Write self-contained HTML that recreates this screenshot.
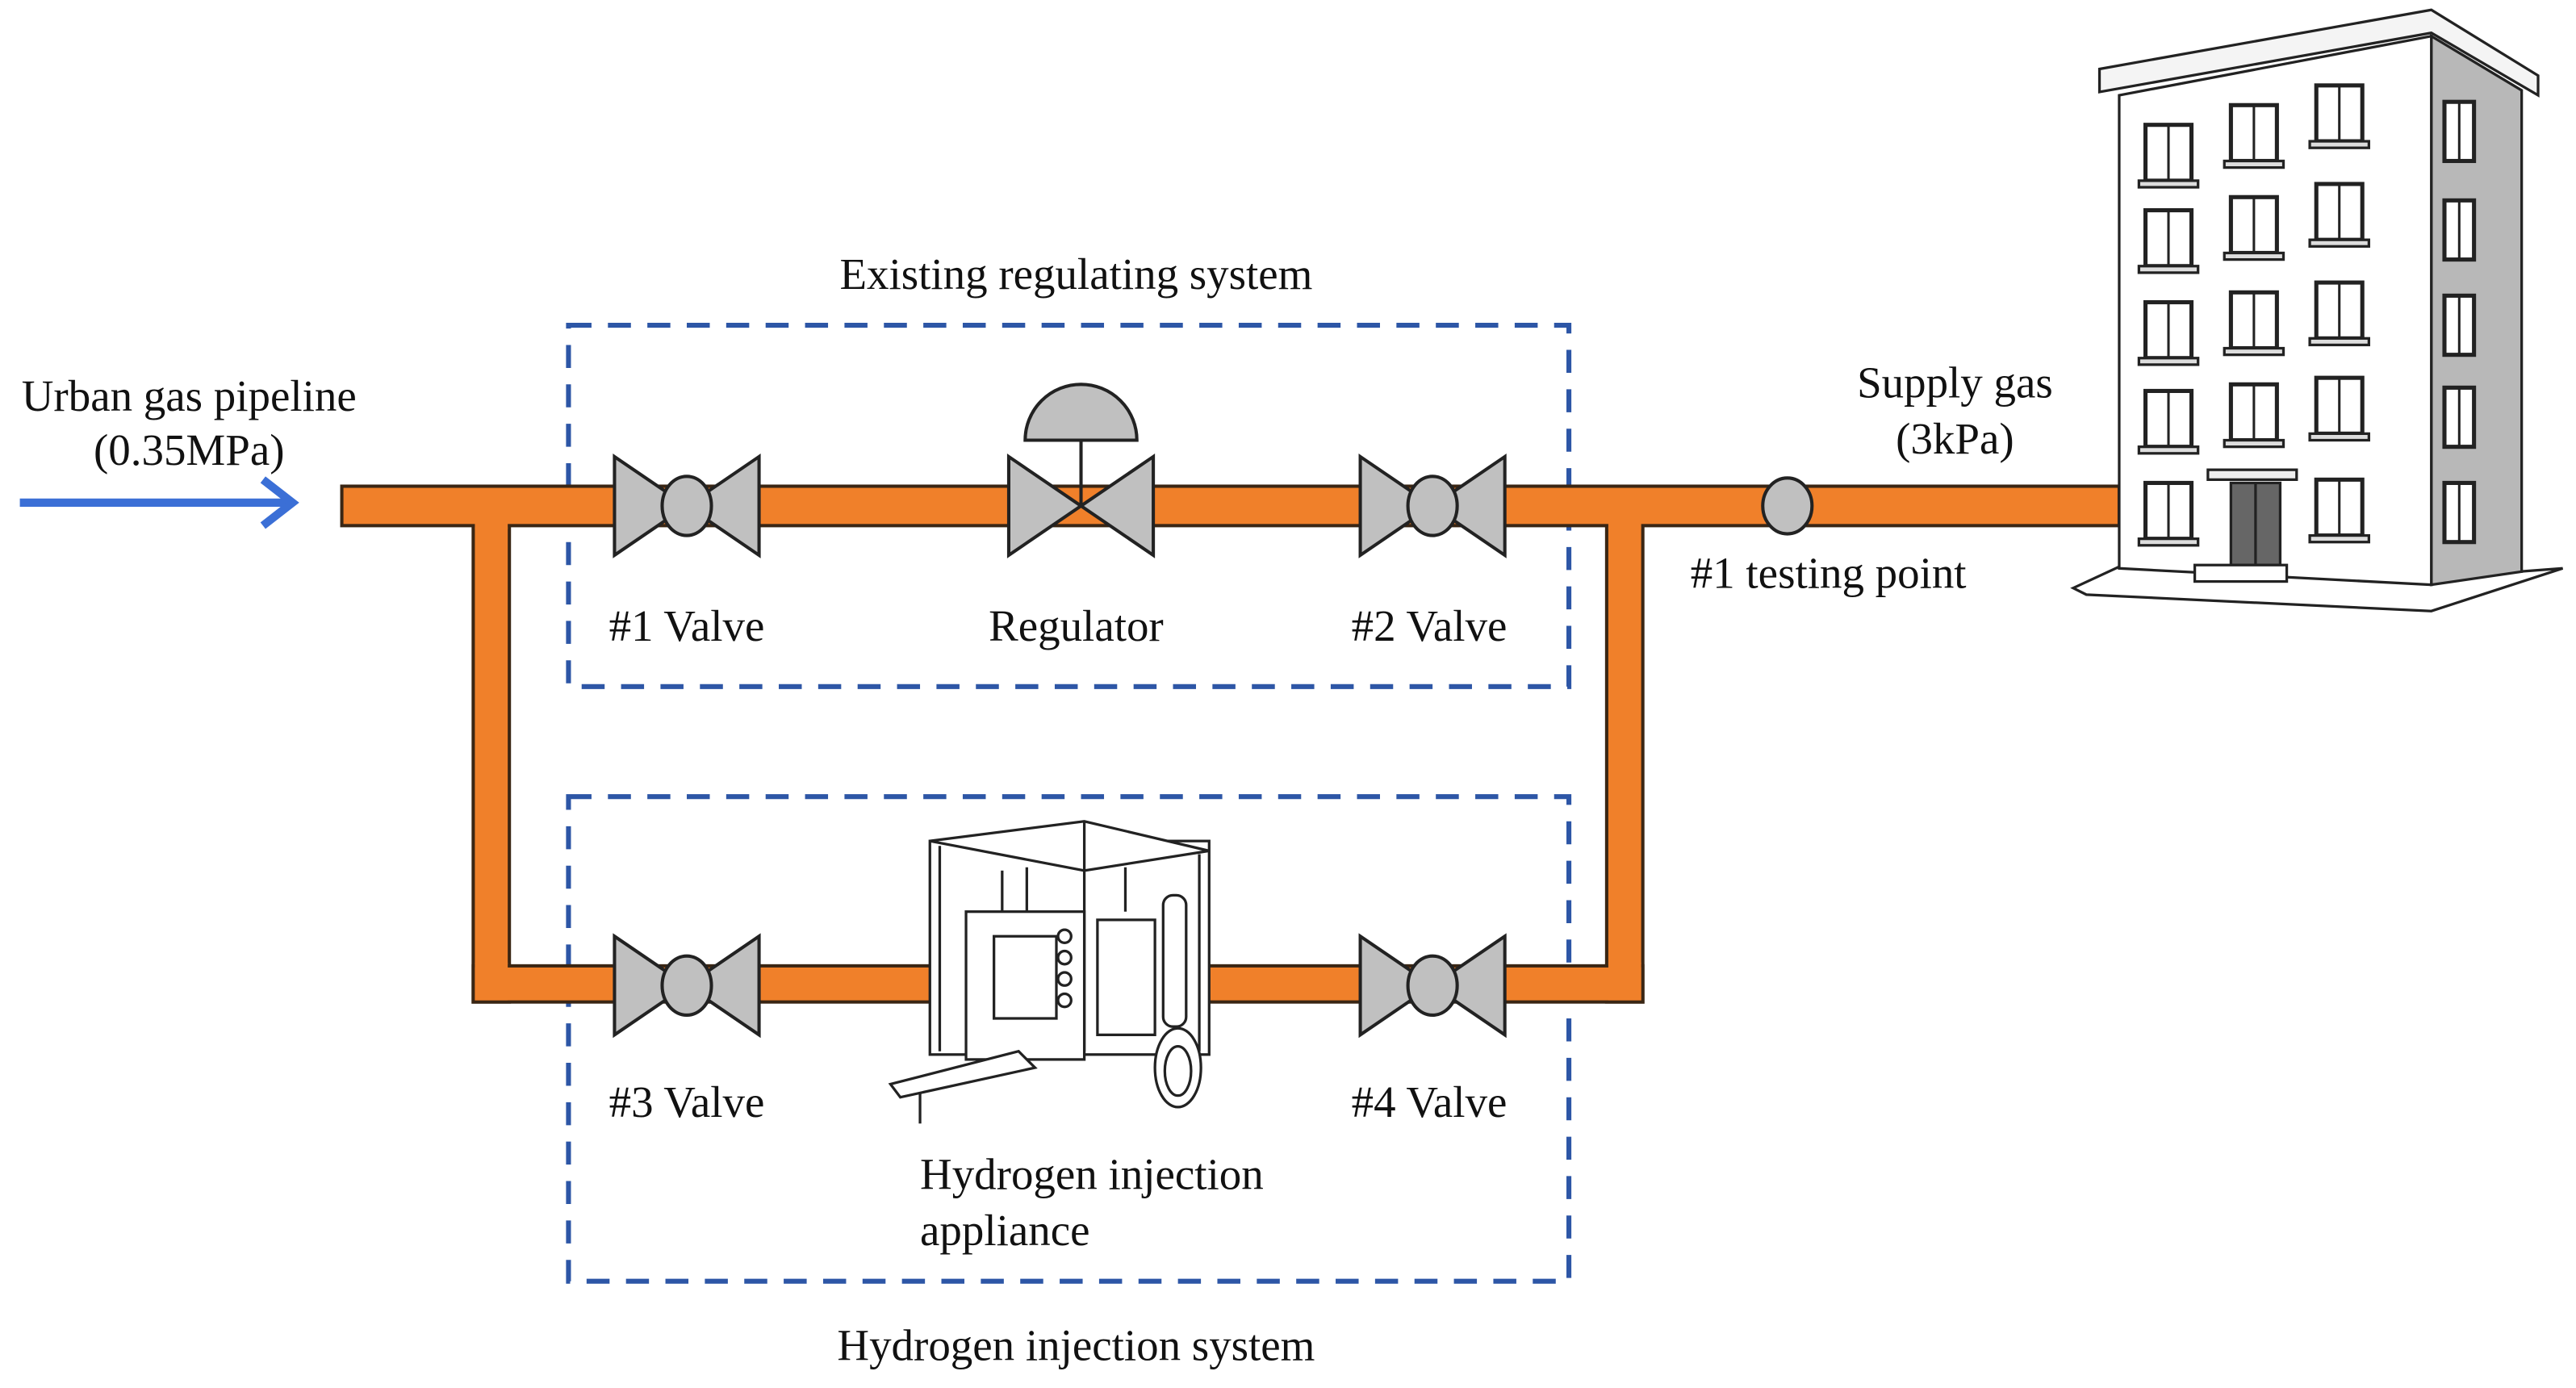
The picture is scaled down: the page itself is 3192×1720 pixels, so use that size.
<!DOCTYPE html>
<html><head><meta charset="utf-8"><style>
html,body{margin:0;padding:0;background:#fff;}
svg{display:block}
text{font-family:"Liberation Serif",serif;font-size:27px;fill:#111}
</style></head><body>
<svg width="3192" height="1720" viewBox="0 0 1568 845" xmlns="http://www.w3.org/2000/svg">
<rect width="1568" height="845" fill="#fff"/>
<rect x="346" y="198" width="609" height="220" fill="none" stroke="#2d56a6" stroke-width="3" stroke-dasharray="14 10"/>
<rect x="346" y="485" width="609" height="295" fill="none" stroke="#2d56a6" stroke-width="3" stroke-dasharray="14 10"/>
<g fill="#f0802a" stroke="#3a2614" stroke-width="2">
<rect x="288" y="318" width="22" height="292"/>
<rect x="978" y="318" width="22" height="292"/>
<rect x="208" y="296" width="1082" height="24"/>
<rect x="288" y="588" width="712" height="22"/>
</g>
<rect x="289" y="318" width="20" height="4" fill="#f0802a"/>
<rect x="979" y="318" width="20" height="4" fill="#f0802a"/>
<rect x="289" y="586" width="20" height="23" fill="#f0802a"/>
<rect x="979" y="586" width="20" height="23" fill="#f0802a"/>
<g stroke="#3b6fd6" stroke-width="5" fill="none">
<line x1="12" y1="306" x2="176" y2="306"/>
<polyline points="160,292 178,306 160,320"/>
</g>
<g fill="#c0c0c0" stroke="#222" stroke-width="2">
<g transform="translate(418,308)"><polygon points="-44,-30 0,0 -44,30"/><polygon points="44,-30 0,0 44,30"/><ellipse rx="15" ry="18"/></g>
<g transform="translate(872,308)"><polygon points="-44,-30 0,0 -44,30"/><polygon points="44,-30 0,0 44,30"/><ellipse rx="15" ry="18"/></g>
<g transform="translate(418,600)"><polygon points="-44,-30 0,0 -44,30"/><polygon points="44,-30 0,0 44,30"/><ellipse rx="15" ry="18"/></g>
<g transform="translate(872,600)"><polygon points="-44,-30 0,0 -44,30"/><polygon points="44,-30 0,0 44,30"/><ellipse rx="15" ry="18"/></g>
<g transform="translate(658,308)"><line x1="0" y1="0" x2="0" y2="-40"/><polygon points="-44,-30 0,0 -44,30"/><polygon points="44,-30 0,0 44,30"/><path d="M-34,-40 A34,34 0 0 1 34,-40 Z"/></g>
<ellipse cx="1088" cy="308" rx="15" ry="17"/>
</g>
<g fill="#fff" stroke="#222" stroke-width="1.6">
<rect x="566" y="512" width="170" height="130"/>
<polygon points="566,512 660,500 736,518 660,530"/>
<line x1="660" y1="500" x2="660" y2="640"/>
<line x1="572" y1="515" x2="572" y2="640"/>
<line x1="730" y1="520" x2="730" y2="640"/>
<rect x="588" y="555" width="72" height="90"/>
<rect x="605" y="570" width="38" height="50"/>
<circle cx="648" cy="570" r="4"/><circle cx="648" cy="583" r="4"/><circle cx="648" cy="596" r="4"/><circle cx="648" cy="609" r="4"/>
<rect x="668" y="560" width="35" height="70"/>
<rect x="708" y="545" width="14" height="80" rx="6"/>
<line x1="610" y1="530" x2="610" y2="555"/><line x1="625" y1="528" x2="625" y2="555"/><line x1="685" y1="528" x2="685" y2="555"/>
<polygon points="542,660 620,640 630,650 548,668"/>
<line x1="560" y1="665" x2="560" y2="684"/>
<ellipse cx="717" cy="650" rx="14" ry="24"/>
<ellipse cx="717" cy="652" rx="8" ry="15"/>
</g>
<g stroke="#222" stroke-width="1.6">
<polygon points="1262,358 1290,345 1480,352 1560,346 1480,372 1270,362" fill="#fff"/>
<polygon points="1480,22 1535,55 1535,348 1480,356" fill="#b8b8b8"/>
<polygon points="1290,58 1480,22 1480,356 1290,346" fill="#fff"/>
<polygon points="1278,42 1480,6 1545,46 1545,58 1480,20 1278,56" fill="#f4f4f4"/>
<g fill="#fff" stroke-width="2.5">
<rect x="1306" y="76" width="28" height="34"/><rect x="1358" y="64" width="28" height="34"/><rect x="1410" y="52" width="28" height="34"/>
<rect x="1306" y="128" width="28" height="34"/><rect x="1358" y="120" width="28" height="34"/><rect x="1410" y="112" width="28" height="34"/>
<rect x="1306" y="184" width="28" height="34"/><rect x="1358" y="178" width="28" height="34"/><rect x="1410" y="172" width="28" height="34"/>
<rect x="1306" y="238" width="28" height="34"/><rect x="1358" y="234" width="28" height="34"/><rect x="1410" y="230" width="28" height="34"/>
<rect x="1306" y="294" width="28" height="34"/><rect x="1410" y="292" width="28" height="34"/>
<rect x="1488" y="62" width="18" height="36"/><rect x="1488" y="122" width="18" height="36"/><rect x="1488" y="180" width="18" height="36"/><rect x="1488" y="236" width="18" height="36"/><rect x="1488" y="294" width="18" height="36"/>
</g>
<g stroke-width="1.5">
<line x1="1320" y1="76" x2="1320" y2="110"/><line x1="1372" y1="64" x2="1372" y2="98"/><line x1="1424" y1="52" x2="1424" y2="86"/>
<line x1="1320" y1="128" x2="1320" y2="162"/><line x1="1372" y1="120" x2="1372" y2="154"/><line x1="1424" y1="112" x2="1424" y2="146"/>
<line x1="1320" y1="184" x2="1320" y2="218"/><line x1="1372" y1="178" x2="1372" y2="212"/><line x1="1424" y1="172" x2="1424" y2="206"/>
<line x1="1320" y1="238" x2="1320" y2="272"/><line x1="1372" y1="234" x2="1372" y2="268"/><line x1="1424" y1="230" x2="1424" y2="264"/>
<line x1="1320" y1="294" x2="1320" y2="328"/><line x1="1424" y1="292" x2="1424" y2="326"/>
<line x1="1497" y1="62" x2="1497" y2="98"/><line x1="1497" y1="122" x2="1497" y2="158"/><line x1="1497" y1="180" x2="1497" y2="216"/><line x1="1497" y1="236" x2="1497" y2="272"/><line x1="1497" y1="294" x2="1497" y2="330"/>
</g>
<g fill="#ddd">
<rect x="1302" y="110" width="36" height="4"/><rect x="1354" y="98" width="36" height="4"/><rect x="1406" y="86" width="36" height="4"/>
<rect x="1302" y="162" width="36" height="4"/><rect x="1354" y="154" width="36" height="4"/><rect x="1406" y="146" width="36" height="4"/>
<rect x="1302" y="218" width="36" height="4"/><rect x="1354" y="212" width="36" height="4"/><rect x="1406" y="206" width="36" height="4"/>
<rect x="1302" y="272" width="36" height="4"/><rect x="1354" y="268" width="36" height="4"/><rect x="1406" y="264" width="36" height="4"/>
<rect x="1302" y="328" width="36" height="4"/><rect x="1406" y="326" width="36" height="4"/>
</g>
<rect x="1344" y="286" width="54" height="6" fill="#eee"/>
<rect x="1358" y="294" width="30" height="50" fill="#666"/>
<line x1="1373" y1="294" x2="1373" y2="344"/>
<rect x="1336" y="344" width="56" height="10" fill="#fff"/>
</g>
<text x="115" y="250" text-anchor="middle">Urban gas pipeline</text>
<text x="115" y="283" text-anchor="middle">(0.35MPa)</text>
<text x="655" y="176" text-anchor="middle">Existing regulating system</text>
<text x="418" y="390" text-anchor="middle">#1 Valve</text>
<text x="655" y="390" text-anchor="middle">Regulator</text>
<text x="870" y="390" text-anchor="middle">#2 Valve</text>
<text x="1113" y="358" text-anchor="middle">#1 testing point</text>
<text x="1190" y="242" text-anchor="middle">Supply gas</text>
<text x="1190" y="276" text-anchor="middle">(3kPa)</text>
<text x="418" y="680" text-anchor="middle">#3 Valve</text>
<text x="870" y="680" text-anchor="middle">#4 Valve</text>
<text x="560" y="724">Hydrogen injection</text>
<text x="560" y="758">appliance</text>
<text x="655" y="828" text-anchor="middle">Hydrogen injection system</text>
</svg>
</body></html>
